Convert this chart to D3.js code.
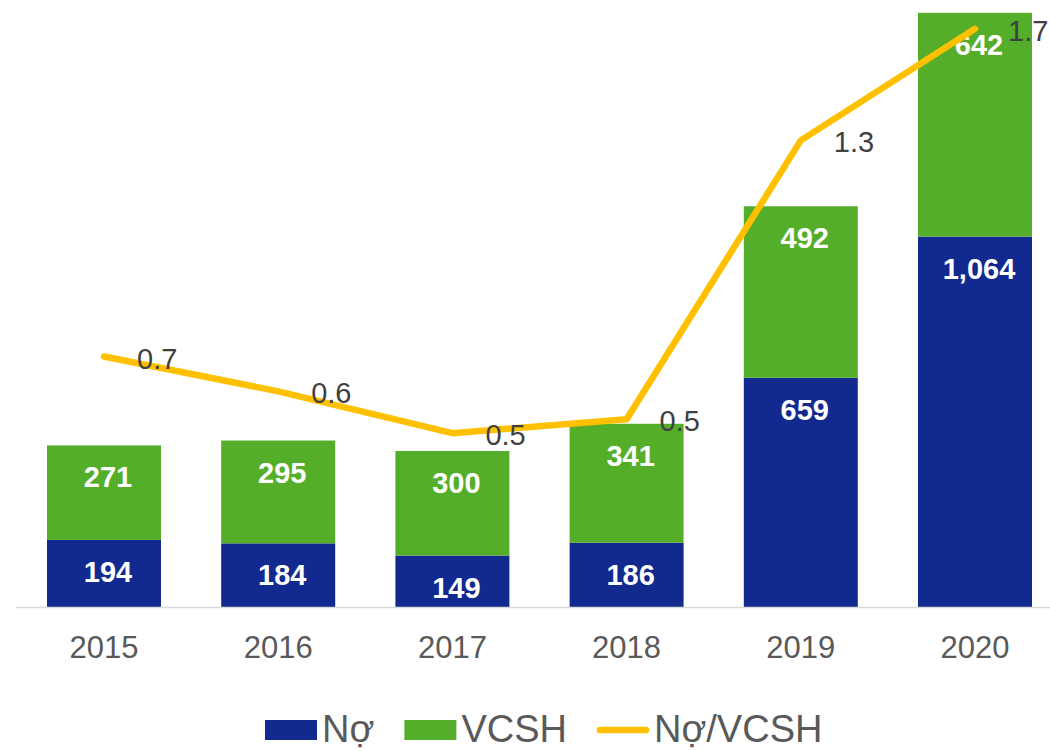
<!DOCTYPE html>
<html>
<head>
<meta charset="utf-8">
<script src="https://cdn.jsdelivr.net/npm/d3@7"></script>
<style>
  html, body { margin: 0; padding: 0; background: #fff; }
  svg { display: block; font-family: "Liberation Sans", Arial, sans-serif; }
</style>
</head>
<body>
<svg id="chart" width="1050" height="751"></svg>
<script>
// Debt (Nợ), equity (VCSH) and debt-to-equity ratio by year
const years = ["2015", "2016", "2017", "2018", "2019", "2020"];
const debt = [194, 184, 149, 186, 659, 1064];
const equity = [271, 295, 300, 341, 492, 642];
const ratio = [0.72, 0.62, 0.50, 0.54, 1.34, 1.66];

const seriesNames = ["Nợ", "VCSH", "Nợ/VCSH"];
const colors = { debt: "#12298f", equity: "#54ae2a", ratio: "#ffc000" };

const svg = d3.select("#chart");
const baseY = 607.5;
const pxPerUnit = 0.3486;

const x = d3.scaleBand()
  .domain(years)
  .range([16.9, 1062.1])
  .paddingInner(0.3456)
  .paddingOuter(0.1728);

const y = d3.scaleLinear().domain([0, 1800]).range([baseY, baseY - 1800 * pxPerUnit]);
const y2 = d3.scaleLinear().domain([0, 1.8]).range([baseY, baseY - 1800 * pxPerUnit]);

const rows = years.map((yr, i) => ({ year: yr, debt: debt[i], equity: equity[i], ratio: ratio[i] }));
const stacked = d3.stack().keys(["debt", "equity"])(rows);

// Stacked bars
const layers = svg.append("g").selectAll("g")
  .data(stacked)
  .join("g")
  .attr("fill", d => colors[d.key]);

layers.selectAll("rect")
  .data(d => d)
  .join("rect")
  .attr("x", d => x(d.data.year))
  .attr("width", x.bandwidth())
  .attr("y", d => y(d[1]))
  .attr("height", d => y(d[0]) - y(d[1]));

// Value labels near the top of each segment
const fmt = d3.format(",");
stacked.forEach(layer => {
  svg.append("g").selectAll("text")
    .data(layer)
    .join("text")
    .attr("x", d => x(d.data.year) + x.bandwidth() / 2 + 4)
    .attr("y", d => y(d[1]) + 42)
    .attr("text-anchor", "middle")
    .attr("fill", "#ffffff")
    .attr("font-weight", "bold")
    .attr("font-size", 29)
    .text(d => fmt(d[1] - d[0]));
});

// Category axis
const xAxis = svg.append("g").attr("transform", `translate(0,${baseY})`)
  .call(d3.axisBottom(x).tickSize(0).tickPadding(0));
xAxis.select(".domain").remove();
svg.append("line")
  .attr("x1", 16).attr("x2", 1050)
  .attr("y1", baseY).attr("y2", baseY)
  .attr("stroke", "#d9d9d9").attr("stroke-width", 1.5);
xAxis.selectAll(".tick text")
  .attr("y", 50)
  .attr("dy", 0)
  .attr("fill", "#595959")
  .attr("font-size", 31)
  .attr("font-family", "\"Liberation Sans\", Arial, sans-serif");

// Ratio line
const cx = d => x(d.year) + x.bandwidth() / 2;
const line = d3.line().x(cx).y(d => y2(d.ratio));
svg.append("path")
  .datum(rows)
  .attr("d", line)
  .attr("fill", "none")
  .attr("stroke", colors.ratio)
  .attr("stroke-width", 6.5)
  .attr("stroke-linecap", "round")
  .attr("stroke-linejoin", "round");

svg.append("g").selectAll("text")
  .data(rows)
  .join("text")
  .attr("x", d => cx(d) + 33)
  .attr("y", d => y2(d.ratio) + 12)
  .attr("fill", "#404040")
  .attr("font-size", 29)
  .text(d => d3.format(".1f")(d.ratio));

// Legend
const legend = svg.append("g").attr("font-size", 38).attr("fill", "#595959");
let lx = 265;
const symW = 52, legendY = 730;
seriesNames.forEach((name, i) => {
  if (i < 2) {
    legend.append("rect")
      .attr("x", lx).attr("y", legendY - 10)
      .attr("width", symW).attr("height", 20)
      .attr("fill", i === 0 ? colors.debt : colors.equity);
  } else {
    legend.append("line")
      .attr("x1", lx + 3).attr("x2", lx + symW - 3)
      .attr("y1", legendY).attr("y2", legendY)
      .attr("stroke", colors.ratio).attr("stroke-width", 6.5)
      .attr("stroke-linecap", "round");
  }
  const t = legend.append("text")
    .attr("x", lx + symW + 5)
    .attr("y", legendY + 12)
    .text(name);
  lx += symW + 5 + t.node().getComputedTextLength() + 30;
});
</script>
</body>
</html>
